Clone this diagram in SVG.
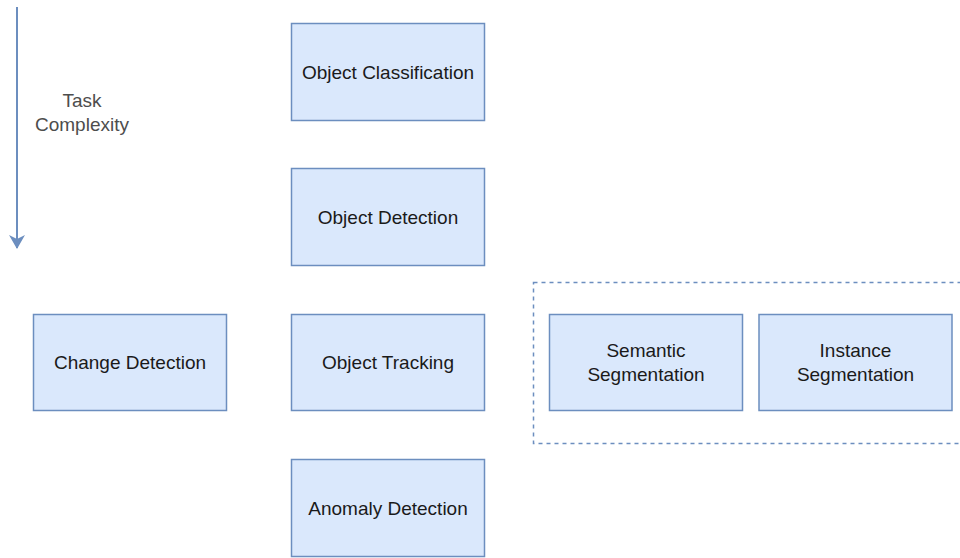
<svg xmlns="http://www.w3.org/2000/svg" width="960" height="558" viewBox="0 0 960 558">
  <defs>
    <style>
      .node rect { fill: #dae8fc; stroke: #6c8ebf; stroke-width: 1.5; }
      .node text { font-family: "Liberation Sans", Arial, sans-serif; font-size: 19px; fill: #1a1a1a; text-anchor: middle; }
      .label { font-family: "Liberation Sans", Arial, sans-serif; font-size: 19px; fill: #4d4d4d; text-anchor: middle; }
      .group-frame { fill: none; stroke: #6c8ebf; stroke-width: 1.5; stroke-dasharray: 4 4; }
    </style>
    <marker id="arrowhead" viewBox="0 0 14 16" refX="13" refY="8" markerWidth="14" markerHeight="16" markerUnits="userSpaceOnUse" orient="auto">
      <path d="M0,0 L14,8 L0,16 L4,8 Z" fill="#6c8ebf"/>
    </marker>
  </defs>
  <rect width="960" height="558" fill="#ffffff"/>

  <!-- complexity axis -->
  <g id="connectors">
    <line x1="17" y1="7" x2="17" y2="248" stroke="#6c8ebf" stroke-width="2" marker-end="url(#arrowhead)"/>
  </g>
  <g id="axis-label">
    <text class="label" x="82" y="107">Task</text>
    <text class="label" x="82" y="131">Complexity</text>
  </g>

  <!-- segmentation group frame -->
  <rect class="group-frame" x="533.5" y="282.5" width="440" height="161"/>

  <g id="object-classification" class="node">
    <rect x="291.5" y="23.5" width="193" height="97"/>
    <text x="388" y="79">Object Classification</text>
  </g>
  <g id="object-detection" class="node">
    <rect x="291.5" y="168.5" width="193" height="97"/>
    <text x="388" y="224">Object Detection</text>
  </g>
  <g id="object-tracking" class="node">
    <rect x="291.5" y="314.5" width="193" height="96"/>
    <text x="388" y="369">Object Tracking</text>
  </g>
  <g id="anomaly-detection" class="node">
    <rect x="291.5" y="459.5" width="193" height="97"/>
    <text x="388" y="515">Anomaly Detection</text>
  </g>
  <g id="change-detection" class="node">
    <rect x="33.5" y="314.5" width="193" height="96"/>
    <text x="130" y="369">Change Detection</text>
  </g>
  <g id="semantic-segmentation" class="node">
    <rect x="549.5" y="314.5" width="193" height="96"/>
    <text x="646" y="357">Semantic</text>
    <text x="646" y="381">Segmentation</text>
  </g>
  <g id="instance-segmentation" class="node">
    <rect x="759" y="314.5" width="193" height="96"/>
    <text x="855.5" y="357">Instance</text>
    <text x="855.5" y="381">Segmentation</text>
  </g>
</svg>
